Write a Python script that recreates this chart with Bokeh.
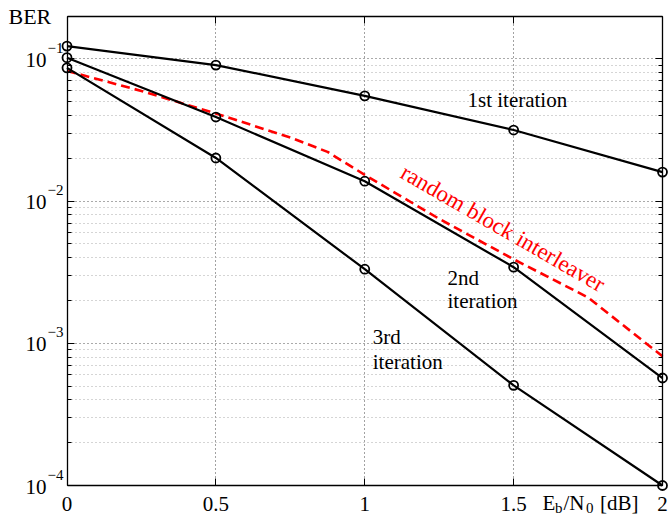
import math
from bokeh.plotting import figure
from bokeh.models import (Range1d, FixedTicker, LinearAxis, LogAxis, Label,
                          CustomJSTickFormatter)
from bokeh.embed import file_html
from bokeh.resources import INLINE

# ---------------- data ----------------
snr_db = [0, 0.5, 1, 1.5, 2]
ber_iter1 = [0.123, 0.0905, 0.055, 0.0316, 0.016]
ber_iter2 = [0.102, 0.039, 0.0138, 0.00343, 0.00057]
ber_iter3 = [0.0865, 0.0201, 0.00332, 0.000506, 0.0001]
snr_random = [0, 0.25, 0.5, 0.75, 0.875, 1, 1.25, 1.5, 1.75, 2]
ber_random = [0.0823, 0.0595, 0.0413, 0.0280, 0.0222, 0.0153, 0.0075, 0.0039, 0.0021, 0.00081]

x_ticks = [0, 0.5, 1, 1.5, 2]
x_tick_labels = ["0", "0.5", "1", "1.5", "2"]
y_decades = [1e-4, 1e-3, 1e-2, 1e-1]
y_exponents = ["\u22124", "\u22123", "\u22122", "\u22121"]
y_minor = [m * d for d in y_decades for m in range(2, 10) if m * d <= 0.2 + 1e-12]

X_MIN, X_MAX = 0, 2
Y_MIN, Y_MAX = 1e-4, 0.2

# ---------------- layout (whole canvas is the frame) ----------------
FONT = "Liberation Serif"
W, H = 668, 522
BOX_L, BOX_R, BOX_T, BOX_B = 66.5, 662.0, 15.6, 485.0
sx = (BOX_R - BOX_L) / (X_MAX - X_MIN)
x_start = X_MIN - BOX_L / sx
x_end = X_MAX + (W - BOX_R) / sx
dec_px = (BOX_B - BOX_T) / math.log10(Y_MAX / Y_MIN)
y_top = Y_MAX * 10 ** (BOX_T / dec_px)
y_bot = Y_MIN / 10 ** ((H - BOX_B) / dec_px)

p = figure(width=W, height=H, x_range=Range1d(x_start, x_end),
           y_range=Range1d(y_bot, y_top), y_axis_type="log",
           output_backend="svg", toolbar_location=None,
           min_border_left=0, min_border_right=0, min_border_top=0,
           min_border_bottom=0, outline_line_color=None,
           background_fill_color="white", border_fill_color="white")

blank = CustomJSTickFormatter(code="return ''")

def style_axis(ax):
    ax.axis_line_color = "black"
    ax.axis_line_width = 1.3
    ax.major_tick_line_color = "black"
    ax.major_tick_line_width = 1
    ax.major_tick_in = 7
    ax.major_tick_out = 0
    ax.minor_tick_in = 4
    ax.minor_tick_out = 0
    ax.minor_tick_line_color = "black"

xax = p.xaxis[0]
xax.fixed_location = Y_MIN
xax.bounds = (X_MIN, X_MAX)
xax.ticker = FixedTicker(ticks=x_ticks)
xax.major_label_overrides = dict(zip(x_ticks, x_tick_labels))
xax.major_label_text_font = FONT
xax.major_label_text_font_size = "21px"
xax.major_label_text_color = "black"
xax.major_label_standoff = 11
style_axis(xax)
xax.minor_tick_line_color = None

yax = p.yaxis[0]
yax.fixed_location = X_MIN
yax.bounds = (Y_MIN, Y_MAX)
yax.ticker = FixedTicker(ticks=y_decades, minor_ticks=y_minor)
yax.formatter = blank
style_axis(yax)

top = LinearAxis(fixed_location=Y_MAX, bounds=(X_MIN, X_MAX),
                 ticker=FixedTicker(ticks=x_ticks), formatter=blank)
style_axis(top)
top.minor_tick_line_color = None
p.add_layout(top, "above")

right = LogAxis(fixed_location=X_MAX, bounds=(Y_MIN, Y_MAX),
                ticker=FixedTicker(ticks=y_decades, minor_ticks=y_minor),
                formatter=blank)
style_axis(right)
p.add_layout(right, "right")

# grids
xg = p.xgrid[0]
xg.grid_line_color = "#444444"
xg.grid_line_dash = "1 3"
xg.grid_line_width = 1
xg.cross_bounds = (Y_MIN, Y_MAX)
yg = p.ygrid[0]
yg.grid_line_color = "#555555"
yg.grid_line_dash = "1 3"
yg.minor_grid_line_color = "#aaaaaa"
yg.minor_grid_line_dash = "1 3"
yg.cross_bounds = (X_MIN, X_MAX)

# ---------------- curves ----------------
p.line(snr_random, ber_random, line_color="#ff0000", line_width=2.6, line_dash="9 5")
for ys in (ber_iter1, ber_iter2, ber_iter3):
    p.line(snr_db, ys, line_color="black", line_width=2.2)
    p.scatter(snr_db, ys, marker="circle", size=9, fill_color=None,
              line_color="black", line_width=1.8)

# ---------------- texts ----------------
SHIFT = 8  # baseline correction for labels

def lab(x, y, text, size="21px", color="black", align="left", xo=0, yo=0, angle=0):
    p.add_layout(Label(x=x, y=y, text=text, text_font=FONT, text_font_size=size,
                       text_color=color, text_align=align, text_baseline="alphabetic",
                       x_offset=xo, y_offset=yo + SHIFT, angle=angle, angle_units="deg"))

for d, e in zip(y_decades, y_exponents):
    lab(X_MIN, d, "10", align="right", xo=-20.5, yo=-9)
    lab(X_MIN, d, e, size="15px", xo=-19.5, yo=3)

lab(X_MIN, Y_MAX, "BER", size="22px", xo=-58.5, yo=-8.4)

lab(1.345, 0.0448, "1st iteration")
lab(1.278, 0.00251, "2nd")
lab(1.278, 0.00174, "iteration")
lab(1.027, 0.000973, "3rd")
lab(1.027, 0.00065, "iteration")
lab(1.128, 0.01443, "random block interleaver", size="23px", color="#ff0000", angle=-30)

# x-axis label E_b/N_0 [dB]
lab(X_MAX, Y_MIN, "E", xo=-120, yo=-25)
lab(X_MAX, Y_MIN, "b", size="15px", xo=-107.5, yo=-30)
lab(X_MAX, Y_MIN, "/N", xo=-99, yo=-25)
lab(X_MAX, Y_MIN, "0", size="15px", xo=-76.5, yo=-30)
lab(X_MAX, Y_MIN, "[dB]", align="right", xo=-24, yo=-25)

open("out.html", "w").write(file_html(p, INLINE))
